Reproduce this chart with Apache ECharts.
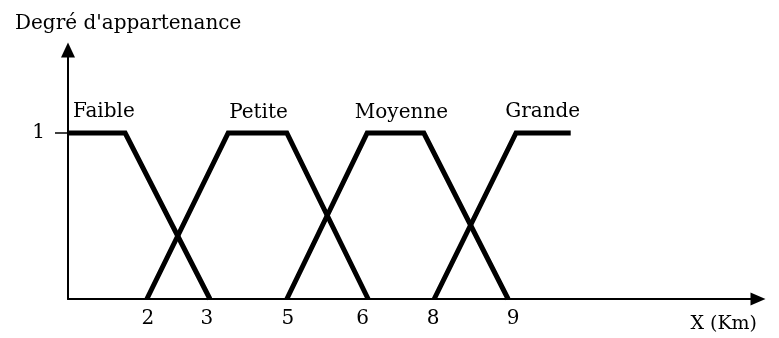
<!DOCTYPE html>
<html>
<head>
<meta charset="utf-8">
<title>Degré d'appartenance</title>
<script src="https://cdn.jsdelivr.net/npm/echarts@6/dist/echarts.min.js"></script>
<style>
  html, body { margin: 0; padding: 0; background: #fff; }
  #chart { width: 779px; height: 338px; }
</style>
</head>
<body>
<div id="chart"></div>
<script>
// positions along the drawn X axis (the sketch is not to scale, so these are read off the picture)
const tickPos = [1.62, 2.82, 4.46, 5.98, 7.41, 9.03];
const tickLabels = ['2', '3', '5', '6', '8', '9'];

// membership functions : [x, degree]
const faible = [[0, 1], [1.16, 1], [2.88, 0]];
const petite = [[1.6, 0], [3.25, 1], [4.44, 1], [6.09, 0]];
const moyenne = [[4.44, 0], [6.07, 1], [7.22, 1], [8.93, 0]];
const grande = [[7.43, 0], [9.09, 1], [10.2, 1]];

// set names and where their text starts
const setNames = ['Faible', 'Petite', 'Moyenne', 'Grande'];
const nameX = [0.1, 3.27, 5.82, 8.87];
const nameY = [1.13, 1.12, 1.12, 1.13];

const font = 'DejaVu Serif';
const textColor = '#000';

function lineSeries(name, data) {
  return {
    name: name,
    type: 'line',
    data: data,
    symbol: 'none',
    silent: true,
    lineStyle: { color: '#000', width: 5, join: 'miter', cap: 'butt' }
  };
}

function init() {
  const chart = echarts.init(document.getElementById('chart'));

  let labelData = [];
  for (let i = 0; i < setNames.length; i++) {
    labelData.push([nameX[i], nameY[i], setNames[i]]);
  }

  const option = {
    animation: false,
    title: {
      text: "Degré d'appartenance",
      left: 10,
      top: 9,
      textStyle: { fontFamily: font, fontSize: 20, fontWeight: 'normal', color: textColor }
    },
    grid: { left: 68, right: 21, top: 50, bottom: 39 },
    xAxis: {
      type: 'value',
      min: 0,
      max: 14,
      name: 'X (Km)',
      nameLocation: 'end',
      nameGap: -1,
      nameTextStyle: {
        fontFamily: font, fontSize: 19, color: textColor,
        align: 'right', verticalAlign: 'top', padding: [16, 0, 0, 0]
      },
      axisLine: {
        show: true,
        symbol: ['none', 'triangle'],
        symbolSize: [13, 15],
        lineStyle: { color: '#000', width: 2 }
      },
      axisTick: { show: false },
      splitLine: { show: false },
      axisLabel: {
        customValues: tickPos,
        margin: 10,
        fontFamily: font,
        fontSize: 20,
        color: textColor,
        formatter: function (v) {
          const i = tickPos.indexOf(v);
          return i >= 0 ? tickLabels[i] : '';
        }
      }
    },
    yAxis: {
      type: 'value',
      min: 0,
      max: 1.5,
      axisLine: {
        show: true,
        symbol: ['none', 'triangle'],
        symbolSize: [14, 15],
        lineStyle: { color: '#000', width: 2 }
      },
      axisTick: { show: true, customValues: [1], length: 13, lineStyle: { color: '#000', width: 1.5 } },
      splitLine: { show: false },
      axisLabel: {
        customValues: [1],
        margin: 23,
        fontFamily: font,
        fontSize: 20,
        color: textColor
      }
    },
    series: [
      lineSeries('Faible', faible),
      lineSeries('Petite', petite),
      lineSeries('Moyenne', moyenne),
      lineSeries('Grande', grande),
      {
        // names of the fuzzy sets
        type: 'scatter',
        data: labelData,
        symbolSize: 0,
        silent: true,
        itemStyle: { opacity: 1 },
        label: {
          show: true,
          position: 'right',
          distance: 0,
          fontFamily: font,
          fontSize: 20,
          color: textColor,
          formatter: function (p) { return p.data[2]; }
        }
      }
    ]
  };
  chart.setOption(option);
}

init();
</script>
</body>
</html>
